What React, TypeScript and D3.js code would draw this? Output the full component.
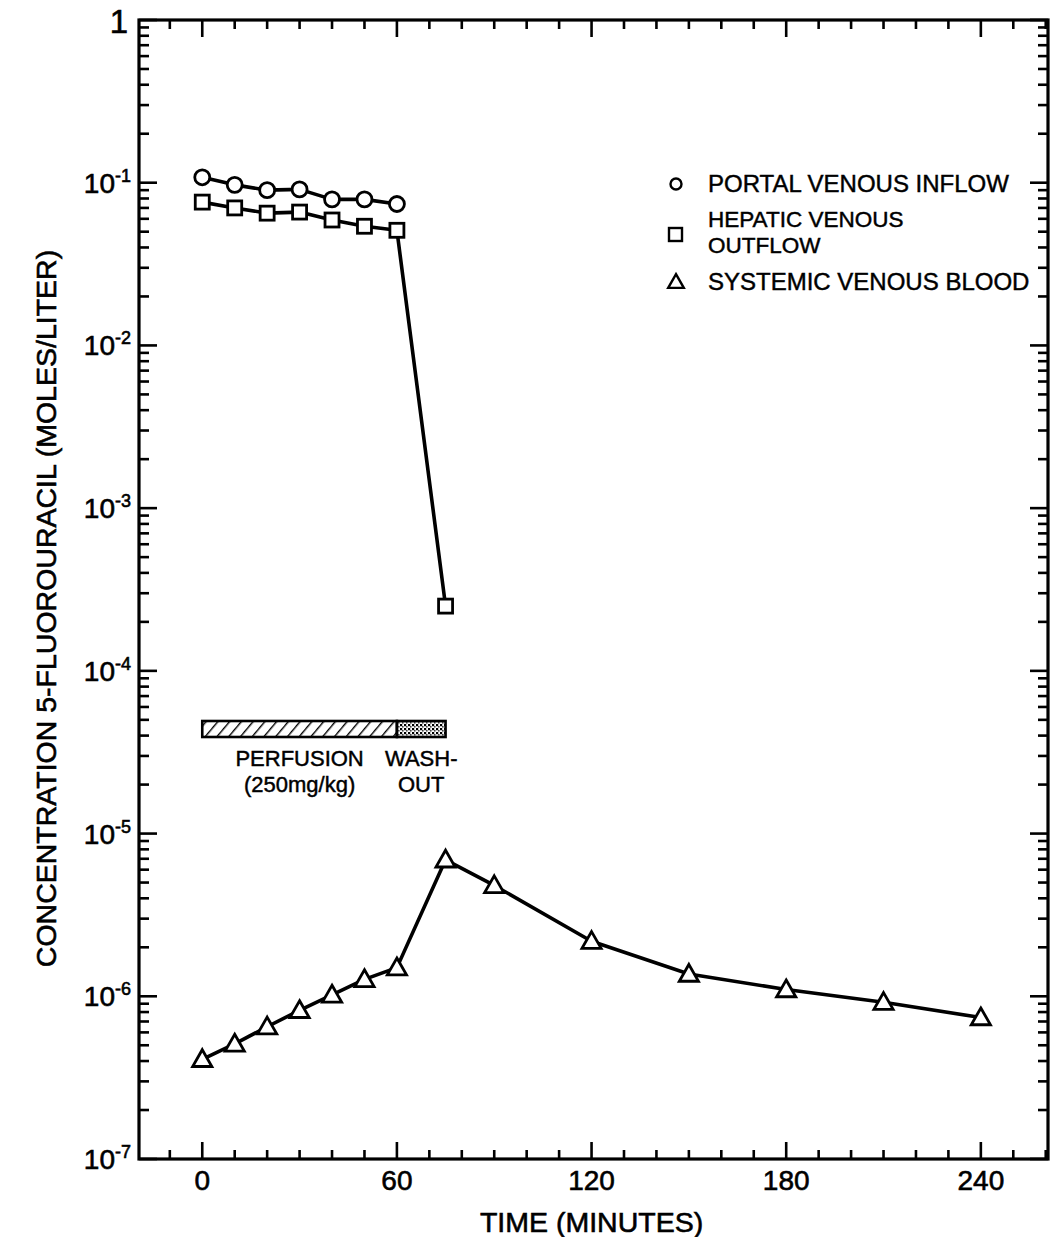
import * as d3 from "d3";

// sampling times (minutes)
const perfTimes = [0, 10, 20, 30, 40, 50, 60];
const portalInflow = [0.108, 0.097, 0.09, 0.091, 0.079, 0.079, 0.074];
const hepaticTimes = [0, 10, 20, 30, 40, 50, 60, 75];
const hepaticOutflow = [0.076, 0.07, 0.065, 0.066, 0.059, 0.054, 0.051, 2.5e-4];
const systemicTimes = [0, 10, 20, 30, 40, 50, 60, 75, 90, 120, 150, 180, 210, 240];
const systemicBlood = [
  4.1e-7, 5.1e-7, 6.5e-7, 8.2e-7, 1.02e-6, 1.27e-6, 1.5e-6, 6.9e-6, 4.8e-6, 2.18e-6,
  1.37e-6, 1.1e-6, 9.2e-7, 7.4e-7,
];
const xTickLabels = [0, 60, 120, 180, 240];
const yDecades = [0, -1, -2, -3, -4, -5, -6, -7];
const legendLabels = [["PORTAL VENOUS INFLOW"], ["HEPATIC VENOUS", "OUTFLOW"], ["SYSTEMIC VENOUS BLOOD"]];

const W = 1059;
const H = 1237;
const left = 139;
const right = 1048;
const top = 20;
const bottom = 1159;
const font = "'Liberation Sans', Arial, Helvetica, sans-serif";

const x = d3.scaleLinear().domain([-19.5, 260.7]).range([left, right]);
const y = d3.scaleLog().domain([1e-7, 1]).range([bottom, top]);

const line = d3
  .line<[number, number]>()
  .x(d => x(d[0]))
  .y(d => y(d[1]));

const minorX = d3.range(-10, 261, 10);
const minorY: number[] = [];
yDecades.slice(1).forEach(e => {
  for (let m = 2; m <= 9; m++) minorY.push(m * Math.pow(10, e));
});

const tri = (cx: number, cy: number, s: number) =>
  `M${cx},${cy - s * 0.6}L${cx + s * 0.6},${cy + s * 0.45}L${cx - s * 0.6},${cy + s * 0.45}Z`;

// old typeset look: slightly heavier glyphs
const ink = { fill: "#000", stroke: "#000", strokeWidth: 0.6 };

export default function App() {
  const portal = perfTimes.map((t, i) => [t, portalInflow[i]] as [number, number]);
  const hepatic = hepaticTimes.map((t, i) => [t, hepaticOutflow[i]] as [number, number]);
  const systemic = systemicTimes.map((t, i) => [t, systemicBlood[i]] as [number, number]);
  const barY = 721;
  const barH = 16;

  return (
    <svg width={W} height={H} style={{ position: "absolute", left: 0, top: 0, background: "#fff" }}>
      <defs>
        <pattern id="hatch" patternUnits="userSpaceOnUse" width="9" height="9" patternTransform="rotate(40)">
          <rect width="9" height="9" fill="#fff" />
          <line x1="0" y1="0" x2="0" y2="9" stroke="#000" strokeWidth="2.8" />
        </pattern>
        <pattern id="dots" patternUnits="userSpaceOnUse" width="4" height="4">
          <rect width="4" height="4" fill="#fff" />
          <rect width="2.2" height="2.2" fill="#000" />
          <rect x="2" y="2" width="1.6" height="1.6" fill="#444" />
        </pattern>
      </defs>

      {/* ticks, inward on all four sides */}
      <g stroke="#000" strokeWidth={2.6}>
        {minorX.map(t => {
          const major = t % 60 === 0 && t >= 0 && t <= 240;
          const len = major ? 17 : 9;
          return (
            <g key={"x" + t}>
              <line x1={x(t)} x2={x(t)} y1={bottom} y2={bottom - len} />
              <line x1={x(t)} x2={x(t)} y1={top} y2={top + len} />
            </g>
          );
        })}
        {yDecades.map(e => (
          <g key={"yd" + e}>
            <line x1={left} x2={left + 18} y1={y(Math.pow(10, e))} y2={y(Math.pow(10, e))} />
            <line x1={right} x2={right - 18} y1={y(Math.pow(10, e))} y2={y(Math.pow(10, e))} />
          </g>
        ))}
        {minorY.map((v, i) => (
          <g key={"ym" + i}>
            <line x1={left} x2={left + 10} y1={y(v)} y2={y(v)} />
            <line x1={right} x2={right - 10} y1={y(v)} y2={y(v)} />
          </g>
        ))}
      </g>

      <rect x={left} y={top} width={right - left} height={bottom - top} fill="none" stroke="#000" strokeWidth={3.2} />

      {/* tick labels */}
      <g fontFamily={font} {...ink}>
        {xTickLabels.map(t => (
          <text key={t} x={x(t)} y={bottom + 31} fontSize={28} textAnchor="middle">
            {t}
          </text>
        ))}
        {yDecades.map(e =>
          e === 0 ? (
            <text key={e} x={left - 11} y={y(1) + 13} fontSize={33} textAnchor="end">
              1
            </text>
          ) : (
            <text key={e} x={left - 8} y={y(Math.pow(10, e)) + 10} fontSize={28} textAnchor="end">
              10
              <tspan fontSize={18} dy={-11}>
                {"-" + -e}
              </tspan>
            </text>
          )
        )}
        <text x={x(120)} y={1232} fontSize={28.5} textAnchor="middle">
          TIME (MINUTES)
        </text>
        <text
          transform={`translate(56,${(top + bottom) / 2 + 19}) rotate(-90)`}
          fontSize={28.5}
          textAnchor="middle"
        >
          CONCENTRATION 5-FLUOROURACIL (MOLES/LITER)
        </text>
      </g>

      {/* perfusion / washout bar */}
      <rect x={x(0)} y={barY} width={x(60) - x(0)} height={barH} fill="url(#hatch)" stroke="#000" strokeWidth={2.6} />
      <rect x={x(60)} y={barY} width={x(75) - x(60)} height={barH} fill="url(#dots)" stroke="#000" strokeWidth={2.6} />
      <g fontFamily={font} fontSize={22} textAnchor="middle" {...ink} strokeWidth={0.45}>
        <text x={x(30)} y={766}>PERFUSION</text>
        <text x={x(30)} y={792}>(250mg/kg)</text>
        <text x={x(67.5)} y={766}>WASH-</text>
        <text x={x(67.5)} y={792}>OUT</text>
      </g>

      {/* series */}
      <g fill="none" stroke="#000" strokeWidth={3.6} strokeLinejoin="round">
        <path d={line(systemic) ?? ""} />
        <path d={line(hepatic) ?? ""} />
        <path d={line(portal) ?? ""} />
      </g>
      <g fill="#fff" stroke="#000" strokeWidth={2.8}>
        {portal.map((d, i) => (
          <circle key={"c" + i} cx={x(d[0])} cy={y(d[1])} r={7.5} />
        ))}
        {hepatic.map((d, i) => (
          <rect key={"s" + i} x={x(d[0]) - 7} y={y(d[1]) - 7} width={14} height={14} />
        ))}
        {systemic.map((d, i) => (
          <path key={"t" + i} d={tri(x(d[0]), y(d[1]), 16)} />
        ))}
      </g>

      {/* legend */}
      <g fill="#fff" stroke="#000" strokeWidth={2.4}>
        <circle cx={676} cy={184} r={5.5} />
        <rect x={669} y={228} width={13} height={13} />
        <path d={tri(676, 282, 13)} />
      </g>
      <g fontFamily={font} fontSize={24} {...ink} strokeWidth={0.45}>
        <text x={708} y={192}>{legendLabels[0][0]}</text>
        <text x={708} y={227} fontSize={22.5}>{legendLabels[1][0]}</text>
        <text x={708} y={253} fontSize={22.5}>{legendLabels[1][1]}</text>
        <text x={708} y={290}>{legendLabels[2][0]}</text>
      </g>
    </svg>
  );
}
